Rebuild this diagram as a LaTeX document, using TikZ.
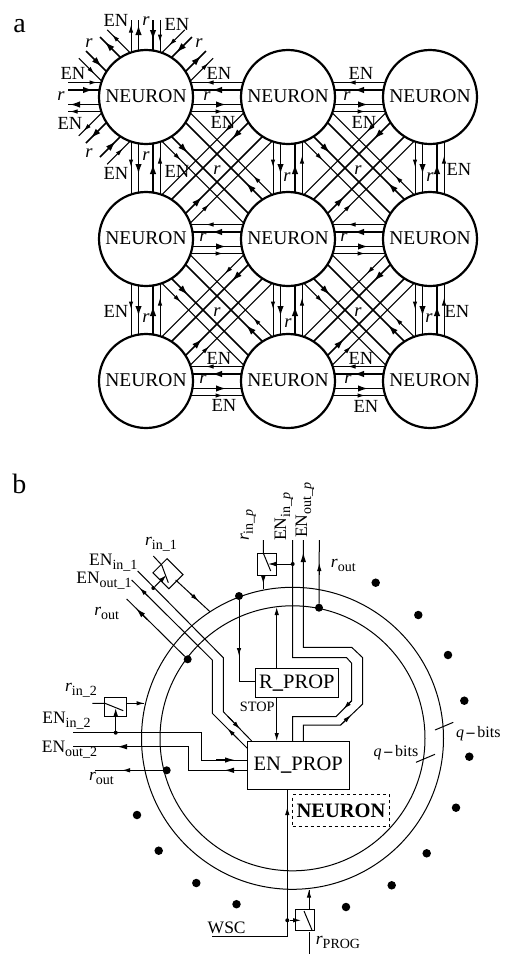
\documentclass[tikz,border=0pt]{standalone}
\usepackage{fontspec}
\setmainfont{Liberation Serif}
\usetikzlibrary{arrows.meta,decorations.markings}
\pgfdeclarelayer{background}
\pgfsetlayers{background,main}
\newcounter{lb}
\newcommand{\sbs}[1]{\raisebox{-4pt}{\fontsize{14}{14}\selectfont #1}}
\newcommand{\lnk}[5]{\draw[#4,#4mk=#5] ([shift={(#3)}]#1.center) -- ([shift={(#3)}]#2.center);}
\newcommand{\sto}[5]{\draw[#4,#4mk=#5] ([shift={(#2)}]#1.center) -- ([shift={(#2)},shift={(#3)}]#1.center);}
\newcommand{\sti}[5]{\draw[#4,#4mk=#5] ([shift={(#2)},shift={(#3)}]#1.center) -- ([shift={(#2)}]#1.center);}
\newcommand{\lab}[2]{\stepcounter{lb}\node[lbla] (la\arabic{lb}) at (#1) {#2};}
\newcommand{\labb}[2]{\stepcounter{lb}\node[lblb] (la\arabic{lb}) at (#1) {#2};}
\tikzset{
  thk/.style={line width=1.6pt},
  thn/.style={line width=1pt},
  thkmk/.style={postaction={decorate,decoration={markings,mark=at position #1pt with {\arrow{Latex[length=10pt,width=6.5pt]}}}}},
  thnmk/.style={postaction={decorate,decoration={markings,mark=at position #1pt with {\arrow{Latex[length=7.5pt,width=4.5pt]}}}}},
  neuron/.style={circle,draw,fill=white,line width=2.2pt,minimum size=94pt,inner sep=0pt,font=\fontsize{19.5}{20}\selectfont},
  lbla/.style={inner sep=0pt,font=\fontsize{18.5}{19}\selectfont},
  lblb/.style={inner sep=0pt,font=\fontsize{17.5}{18}\selectfont},
  wire/.style={line width=1pt},
  warr/.style={line width=1pt,-{Latex[length=8pt,width=4.5pt]}},
  warb/.style={line width=1.3pt,-{Latex[length=10pt,width=5.5pt]}},
  bx/.style={draw,line width=1pt,inner sep=0pt,fill=white,font=\fontsize{20.5}{21}\selectfont},
  sw/.style={draw,line width=1pt,inner sep=0pt},
  bigdot/.style={circle,fill=black,inner sep=0pt,minimum size=8pt},
  smdot/.style={circle,fill=black,inner sep=0pt,minimum size=4pt},
  outdot/.style={circle,fill=black,inner sep=0pt,minimum size=8.5pt},
  ring/.style={circle,draw,line width=1pt,inner sep=0pt},
}
\begin{document}
\begin{tikzpicture}[x=1pt,y=-1pt]
\useasboundingbox (0,0) rectangle (505,954);
% ---------- part a
\node[inner sep=0pt,font=\fontsize{28}{28}\selectfont] (capa) at (19.5,26) {a};
\foreach \r/\y in {1/97,2/239,3/381}
  \foreach \c/\x in {1/146,2/288,3/430}
    \node[neuron] (n\r\c) at (\x,\y) {\raisebox{1pt}{NEURON}};
\begin{pgfonlayer}{background}
% horizontal links
\foreach \r in {1,2,3}
  \foreach \a/\b in {1/2,2/3}{
    \lnk{n\r\b}{n\r\a}{0,-14.5}{thn}{82}
    \lnk{n\r\b}{n\r\a}{0,-7}{thk}{76}
    \lnk{n\r\a}{n\r\b}{0,7.5}{thk}{80}
    \lnk{n\r\a}{n\r\b}{0,14.5}{thn}{77}
  }
% vertical links
\foreach \c in {1,2,3}
  \foreach \a/\b in {1/2,2/3}{
    \lnk{n\a\c}{n\b\c}{-15,0}{thn}{70}
    \lnk{n\a\c}{n\b\c}{-7.5,0}{thk}{77}
    \lnk{n\b\c}{n\a\c}{7,0}{thk}{75}
    \lnk{n\b\c}{n\a\c}{14,0}{thn}{83}
  }
% diagonal links
\foreach \a/\b in {1/2,2/3}
  \foreach \c/\d in {1/2,2/3}{
    \lnk{n\a\c}{n\b\d}{-7,7}{thk}{69}
    \lnk{n\a\c}{n\b\d}{-14.2,14.2}{thn}{69}
    \lnk{n\b\d}{n\a\c}{7,-7}{thk}{69}
    \lnk{n\b\d}{n\a\c}{14.2,-14.2}{thn}{69}
    \lnk{n\b\c}{n\a\d}{7,7}{thk}{69}
    \lnk{n\b\c}{n\a\d}{14.2,14.2}{thn}{69}
    \lnk{n\a\d}{n\b\c}{-7,-7}{thk}{69}
    \lnk{n\a\d}{n\b\c}{-14.2,-14.2}{thn}{69}
  }
% free stubs of the corner neuron
\sto{n11}{-15,0}{0,-77}{thn}{72}
\sto{n11}{-7.5,0}{0,-77}{thk}{72}
\sti{n11}{7,0}{0,-77}{thk}{20}
\sti{n11}{14,0}{0,-77}{thn}{22}
\sti{n11}{0,-14.5}{-78,0}{thn}{29}
\sti{n11}{0,-7}{-78,0}{thk}{25}
\sto{n11}{0,7.5}{-78,0}{thk}{76}
\sto{n11}{0,14.5}{-78,0}{thn}{76}
\sti{n11}{-7,7}{-53,-53}{thk}{22}
\sti{n11}{-14.2,14.2}{-53,-53}{thn}{22}
\sto{n11}{7,-7}{-53,-53}{thk}{68}
\sto{n11}{14.2,-14.2}{-53,-53}{thn}{68}
\sti{n11}{-7,-7}{53,-53}{thk}{22}
\sti{n11}{-14.2,-14.2}{53,-53}{thn}{22}
\sto{n11}{7,7}{53,-53}{thk}{68}
\sto{n11}{14.2,14.2}{53,-53}{thn}{68}
\sto{n11}{-7,-7}{-53,53}{thk}{68}
\sto{n11}{-14.2,-14.2}{-53,53}{thn}{68}
\sti{n11}{7,7}{-53,53}{thk}{22}
\sti{n11}{14.2,14.2}{-53,53}{thn}{22}
\end{pgfonlayer}
% labels of part a
\lab{116,20}{EN}\lab{146,21}{\itshape r}\lab{177,24}{EN}
\lab{89,43}{\itshape r}\lab{199,43}{\itshape r}
\lab{73,73}{EN}\lab{61,96}{\itshape r}\lab{70,123}{EN}
\lab{89,153}{\itshape r}\lab{116,173}{EN}\lab{146,156}{\itshape r}\lab{177,171}{EN}
\lab{219,73}{EN}\lab{207,96}{\itshape r}\lab{223,122}{EN}\lab{217,170}{\itshape r}
\lab{361,73}{EN}\lab{347,96}{\itshape r}\lab{364,122}{EN}\lab{358,170}{\itshape r}
\lab{287,177}{\itshape r}\lab{430,177}{\itshape r}\lab{459,169}{EN}
\lab{116,311}{EN}\lab{146,318}{\itshape r}\lab{203,237}{\itshape r}\lab{217,312}{\itshape r}
\lab{219,358}{EN}\lab{203,379}{\itshape r}\lab{224,405}{EN}\lab{288,323}{\itshape r}
\lab{344,237}{\itshape r}\lab{358,312}{\itshape r}\lab{429,318}{\itshape r}\lab{457,311}{EN}
\lab{361,358}{EN}\lab{348,379}{\itshape r}\lab{366,406}{EN}
% ---------- part b
\node[inner sep=0pt,font=\fontsize{28}{28}\selectfont] (capb) at (19.5,484) {b};
\node[ring,minimum size=302pt] (ro) at (292.5,738.3) {};
\node[ring,minimum size=265pt] (ri) at (292.5,738.3) {};
\foreach \i/\p in {1/{375.7,582.7},2/{418.3,615},3/{448,655},4/{464.3,700.7},5/{469.3,756.7},6/{456,807.7},7/{426.7,853.3},8/{391.7,885.3},9/{346,907},10/{236.5,904.2},11/{196.3,883},12/{158.7,850.7},13/{137,815}}
  \node[outdot] (od\i) at (\p) {};
\node[bx,minimum width=83pt,minimum height=29.3pt] (rprop) at (296.8,683.3) {R\textbf{\_}PROP};
\node[bx,minimum width=101.7pt,minimum height=48.3pt] (enprop) at (298.2,765.2) {EN\textbf{\_}PROP};
\node[draw,dashed,line width=.9pt,inner sep=0pt,minimum width=96.6pt,minimum height=32pt,font=\bfseries\fontsize{20.5}{21}\selectfont] (nbox) at (341,810.7) {NEURON};
% ring taps
\node[bigdot] (d1) at (239,596) {};
\node[bigdot] (d2) at (187.7,659.3) {};
\node[bigdot] (d3) at (319,607.7) {};
\node[bigdot] (d4) at (166.7,770.3) {};
% switch boxes
\node[sw,minimum width=19pt,minimum height=21.7pt] (swp) at (267.2,564.2) {};
\node[sw,minimum width=22.6pt,minimum height=20pt,rotate=-45] (sw1) at (168,573.7) {};
\node[sw,minimum width=21.7pt,minimum height=19pt] (sw2) at (115.8,707.2) {};
\node[sw,minimum width=18.6pt,minimum height=21.3pt] (swg) at (305,920.3) {};
\node[smdot] (cp) at (292.7,564) {};
\node[smdot] (c1) at (153.3,588) {};
\node[smdot] (c2) at (115.7,732.7) {};
\node[smdot] (cg) at (287.3,920.3) {};
% free ends
\coordinate (tA) at (292.7,540);
\coordinate (tB) at (303.3,540);
\coordinate (tC) at (319.3,540);
\coordinate (tD) at (263.3,540);
% top switch
\draw[wire] (tD) -- (263.3,553.1) -- (270.7,571);
\draw[wire] (263.3,575) -- (263.3,588.5);
\draw[warr] (263.3,575) -- (263.3,584);
\draw[warr] (cp) -- (268,564);
% EN in p
\draw[wire] (tA) -- (292.7,657.7) -- (346.7,657.7) -- (351.7,663.3) -- (351.7,700.7) -- (336,716.7) -- (292.7,716.7) -- (292.7,741);
\draw[warr] (351.7,700.7) -- (343.5,709);
% EN out p
\draw[wire] (303.3,741) -- (303.3,725) -- (340.7,725) -- (362.7,704) -- (362.7,657.7) -- (351.7,647.3) -- (303.3,647.3) -- (tB);
\draw[warr] (340.7,725) -- (351,715);
\draw[warb] (303.3,565) -- (303.3,552);
% r out p
\draw[thn] (d3) -- (tC);
\draw[warr] (319.3,575) -- (319.3,563);
% R_PROP links
\draw[warr] (rprop.north -| 276.7,0) -- (276.7,607);
\draw[warr] (rprop.south -| 276.7,0) -- (276.7,741);
\draw[wire] (d1) -- (239,681.7) -- (rprop.west |- 0,681.7);
\draw[warr] (239,640) -- (239,656);
% switch 1 and EN 1
\draw[wire] (153.3,556) -- (161.7,565) -- (168.3,582.7);
\draw[wire] (175.7,580) -- (210,611.7);
\draw[warr] (190,593.2) -- (198.5,601);
\draw[warr] (c1) -- (166.5,575);
\draw[wire] (137.7,571) -- (223.3,657.7) -- (223.3,711.7) -- (251.7,741);
\draw[warr] (228,716.5) -- (240,729);
\draw[wire] (247.3,748.3) -- (212.3,713.3) -- (212.3,660) -- (131.7,580);
\draw[warr] (238,739) -- (227.5,728.5);
\draw[warr] (148,596.2) -- (139.5,587.8);
\draw[thn] (d2) -- (126.7,599);
\draw[warb] (147,619.3) -- (136,608.3);
% switch 2 and EN 2
\draw[wire] (92.3,703.3) -- (105,703.3) -- (123.3,710.7);
\draw[wire] (126.7,703.3) -- (144,703.3);
\draw[warr] (126.7,703.3) -- (144.5,703.3);
\draw[warr] (c2) -- (115.7,708);
\draw[wire] (73.3,732.7) -- (201.7,732.7) -- (201.7,760) -- (enprop.west |- 0,760);
\draw[warb] (216,760) -- (235,760);
\draw[wire] (enprop.west |- 0,770.3) -- (188.3,770.3) -- (188.3,746.7) -- (73.3,746.7);
\draw[warb] (240,770.3) -- (224,770.3);
\draw[warb] (134,746.7) -- (117,746.7);
\draw[wire] (d4) -- (95,770.3);
\draw[warr] (135,770.3) -- (122,770.3);
% WSC and switch G
\coordinate (wsc) at (212.3,936.7);
\draw[wire] (wsc) -- (287.3,936.7) -- (enprop.south -| 287.3,0);
\draw[warr] (287.3,825) -- (287.3,807);
\draw[wire] (309,954) -- (309,931.5);
\draw[wire] (312,930) -- (304,911);
\draw[wire] (309,909.7) -- (309,889.5);
\draw[warr] (309,903) -- (309,889.5);
\draw[warr] (cg) -- (301,920.3);
% tick marks
\draw[wire] (435,730) -- (453.3,722.3);
\draw[wire] (416,762.3) -- (435,754.3);
% labels of part b
\labb{161,544.5}{{\itshape r}\sbs{in\_1}}
\labb{113.3,562.5}{EN\sbs{in\_1}}
\labb{104,580.7}{EN\sbs{out\_1}}
\labb{106.7,613.5}{{\itshape r}\sbs{out}}
\labb{81,690}{{\itshape r}\sbs{in\_2}}
\labb{66.5,721}{EN\sbs{in\_2}}
\labb{69.5,750}{EN\sbs{out\_2}}
\labb{101.5,778.5}{{\itshape r}\sbs{out}}
\labb{343.3,565.5}{{\itshape r}\sbs{out}}
\labb{338,942.5}{{\itshape r}\sbs{PROG}}
\labb{226.7,928}{WSC}
\stepcounter{lb}\node[lblb,rotate=90] (la\arabic{lb}) at (248.3,525) {{\itshape r}\sbs{in\_{\itshape p}}};
\stepcounter{lb}\node[lblb,rotate=90,anchor=west] (la\arabic{lb}) at (284,541) {EN\sbs{in\_{\itshape p}}};
\stepcounter{lb}\node[lblb,rotate=90,anchor=west] (la\arabic{lb}) at (305,538) {EN\sbs{out\_{\itshape p}}};
\node[inner sep=0pt,font=\fontsize{14.3}{15}\selectfont] (stop) at (257.3,706.7) {STOP};
\node[inner sep=0pt,font=\fontsize{16}{17}\selectfont] (qa) at (478.3,733.3) {{\itshape q}\,\textbf{--}\,bits};
\node[inner sep=0pt,font=\fontsize{16}{17}\selectfont] (qb) at (396,752.3) {{\itshape q}\,\textbf{--}\,bits};
\end{tikzpicture}
\end{document}
